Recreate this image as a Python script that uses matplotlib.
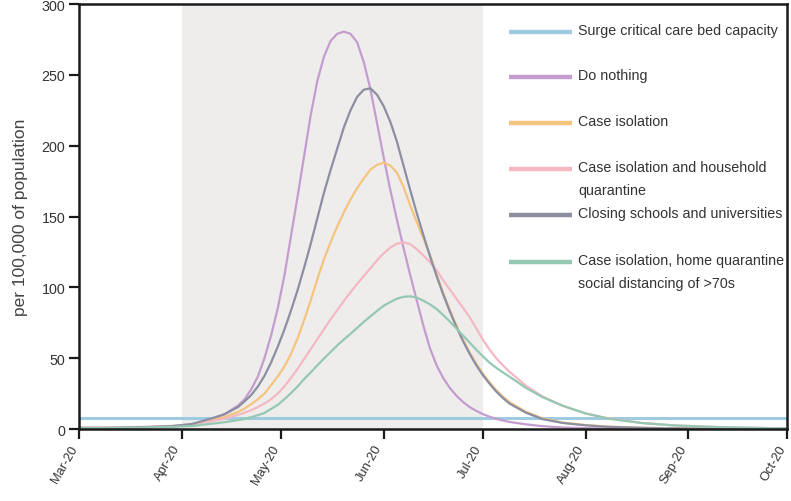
import matplotlib
matplotlib.use("Agg")
import matplotlib.pyplot as plt
import matplotlib.dates as mdates
import matplotlib.transforms as mtransforms
import pandas as pd

plt.rcParams['font.family'] = ['Liberation Sans', 'DejaVu Sans']

# days since 1 March 2020
day_offsets = ([0, 10, 20, 28, 34, 40, 44, 48] + list(range(50, 131, 2))
               + [135, 140, 146, 153, 160, 170, 180, 195, 214])

do_nothing = [0.3, 0.5, 1.0, 1.7, 3.0, 6.5, 10.5, 16.5,
              21, 28, 37, 50, 66, 85, 108, 136, 164, 193, 222, 246, 263, 274,
              279, 280.5, 279, 273, 259, 240, 216, 192, 169, 148, 128, 109, 91,
              73, 57, 45, 36, 29, 23.5, 19, 15.5, 12.8, 10.5, 8.7, 7.2, 6, 5,
              3.3, 2, 1.1, 0.6, 0.35, 0.2, 0.1, 0.05, 0]
case_isolation = [0.5, 0.7, 1.2, 2.0, 3.3, 6, 8.5, 12,
                  14.5, 17.5, 21, 25, 31, 37, 44, 53, 64, 77, 91, 106, 120, 132,
                  143, 153, 162, 170, 177, 183, 186.5, 188, 186, 181, 171, 158,
                  146, 134.5, 123, 109, 96, 84, 73, 63, 54, 46, 39, 33, 27.5, 23,
                  19, 12.2, 7.5, 4.6, 2.8, 1.7, 0.9, 0.5, 0.25, 0.1]
household_quarantine = [1.2, 1.3, 1.6, 2.2, 3.5, 5.5, 7.3, 10,
                        11.5, 13.3, 15.5, 18, 21, 25, 30, 36, 42.5, 49.5, 56.5,
                        63.5, 70.5, 77.5, 84, 90.5, 96.5, 102.5, 108, 113.5, 119,
                        124, 128, 130.8, 131.8, 130.5, 127, 122.5, 117.8, 112,
                        105, 98.5, 92, 85.5, 79, 71, 63, 56, 50, 45, 40.5,
                        30.5, 23, 16.5, 11, 7.5, 4.3, 2.5, 1.2, 0.5]
closing_schools = [0.5, 0.7, 1.3, 2.0, 3.5, 7.5, 10.5, 15.5,
                   19.5, 24, 30, 37.5, 47, 58, 70, 83.5, 98, 114, 131, 149, 167,
                   183, 198, 213, 225, 234.5, 239.5, 240.5, 236, 228, 217, 203,
                   186, 169, 152.5, 137, 122, 108, 95, 83, 72, 62, 53, 45, 38, 32,
                   26.5, 22, 18, 11.5, 7, 4.3, 2.6, 1.5, 0.8, 0.4, 0.2, 0.1]
social_distancing = [0.8, 0.9, 1.1, 1.5, 2.1, 3.7, 4.8, 6.3,
                     7.1, 8.4, 9.8, 11.3, 14.2, 17, 21, 25.3, 30, 35.3, 40, 45,
                     49.8, 54.4, 59, 63.2, 67.2, 71.4, 75.6, 79.5, 83.3, 87, 89.6,
                     92, 93.3, 93.7, 92.8, 90.6, 88, 84.7, 80.5, 75.8, 71, 66, 61,
                     56, 51.3, 46.8, 43.3, 40, 37, 29, 22.5, 16.5, 11, 7.3, 4.2,
                     2.5, 1.2, 0.4]
bed_capacity = 8

lockdown = ['2020-04-01', '2020-07-01']
x_range = ['2020-03-01', '2020-10-01']

labels = ['Surge critical care bed capacity', 'Do nothing', 'Case isolation',
          'Case isolation and household\nquarantine',
          'Closing schools and universities',
          'Case isolation, home quarantine\nsocial distancing of >70s']
colors = ['#9fcbe0', '#c49ccf', '#f5c47f', '#f5b8c3', '#8b8fa1', '#95c8b2']

dates = pd.Timestamp('2020-03-01') + pd.to_timedelta(day_offsets, unit='D')
series = [do_nothing, case_isolation, household_quarantine, closing_schools,
          social_distancing]

fig = plt.figure(figsize=(7.91, 5.02), dpi=100)
ax = fig.add_axes([0.1, 0.1434, 0.8955, 0.8466])

ax.axvspan(pd.Timestamp(lockdown[0]), pd.Timestamp(lockdown[1]),
           color='#eeedec', zorder=0, lw=0)
ax.axhline(bed_capacity, color=colors[0], lw=2.2, zorder=1)
for vals, c in zip(series, colors[1:]):
    ax.plot(dates, vals, color=c, lw=1.6, zorder=2, solid_joinstyle='round')

ax.set_xlim(pd.Timestamp(x_range[0]), pd.Timestamp(x_range[1]))
ax.set_ylim(0, 300)
ax.set_yticks(range(0, 301, 50))
ax.set_xticks(pd.date_range(x_range[0], x_range[1], freq='MS'))
ax.xaxis.set_major_formatter(mdates.DateFormatter('%b-%y'))

for sp in ax.spines.values():
    sp.set_linewidth(1.8)
    sp.set_color('#1a1a1a')
ax.tick_params(axis='both', direction='out', length=7, width=1.6,
               colors='#1a1a1a', labelcolor='#333333')
ax.tick_params(axis='y', labelsize=10.3, pad=3)
ax.tick_params(axis='x', labelsize=9.3, pad=5)
ax.set_ylabel('per 100,000 of population', fontsize=12.5, color='#444444',
              labelpad=10)

# rotated month labels, nudged a little left so the last one stays inside
shift = mtransforms.ScaledTranslation(-3 / 72, 0, fig.dpi_scale_trans)
for lbl in ax.get_xticklabels():
    lbl.set_rotation(60)
    lbl.set_ha('right')
    lbl.set_va('center')
    lbl.set_rotation_mode('anchor')
    lbl.set_transform(lbl.get_transform() + shift)

# legend drawn by hand so the handle lines up with the first text line
row_y = [0.934, 0.828, 0.720, 0.612, 0.504, 0.393]
for y, lab, c in zip(row_y, labels, colors):
    ax.plot([0.6065, 0.6953], [y, y], color=c, lw=3.2, transform=ax.transAxes,
            solid_capstyle='butt', zorder=3)
    ax.text(0.705, y + 0.021, lab, transform=ax.transAxes, fontsize=10.3,
            color='#333333', va='top', linespacing=1.85)

fig.savefig('out.png', dpi=100)
